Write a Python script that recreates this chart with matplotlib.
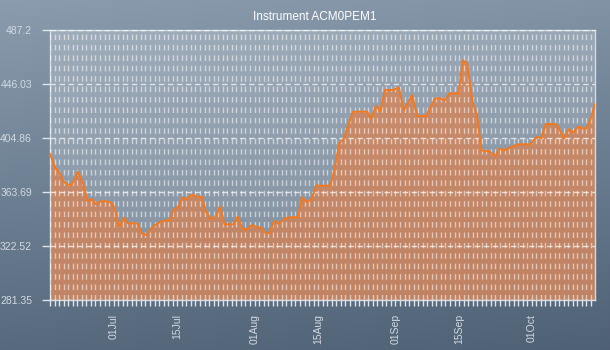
import numpy as np
import pandas as pd
import matplotlib
matplotlib.use('Agg')
import matplotlib.pyplot as plt
import matplotlib.dates as mdates

plt.rcParams['font.family'] = ['Liberation Sans', 'DejaVu Sans']

title = 'Instrument ACM0PEM1'
start = pd.Timestamp('2013-06-17')

# offset in days from start, and the instrument value there
days = [0.0, 0.66, 1.17, 1.98, 2.86, 3.59, 4.69, 5.29, 6.17, 6.89,
        7.49, 8.22, 9.25, 10.07, 10.95, 12.18, 13.5, 14.25, 15.13, 16.3,
        17.18, 19.23, 20.11, 21.21, 21.96, 23.13, 24.23, 25.33, 26.43, 27.16,
        28.26, 29.14, 30.11, 31.21, 32.31, 33.41, 34.3, 35.4, 36.34, 37.44,
        38.39, 40.37, 41.34, 42.36, 43.33, 44.43, 45.53, 46.48, 47.58, 48.3,
        49.34, 50.29, 51.76, 52.71, 54.56, 55.44, 56.54, 57.64, 58.59, 61.67,
        62.56, 63.66, 64.6, 65.48, 66.67, 69.76, 70.64, 71.74, 72.69, 73.68,
        75.62, 76.72, 77.82, 78.79, 79.67, 80.77, 82.75, 83.7, 84.8, 85.9,
        86.78, 87.89, 89.87, 90.81, 91.78, 92.51, 93.06, 93.94, 94.93, 96.54,
        98.02, 98.9, 99.85, 101.32, 103.15, 105.73, 107.05, 108.08, 109.03, 111.23,
        111.96, 113.06, 114.16, 115.13, 116.15, 117.11, 118.06, 119.0, 119.9]
values = [392.7, 386.8, 381.8, 379.2, 372.3, 369.8, 369.0, 372.8, 379.2, 373.4,
          367.7, 356.8, 358.4, 354.3, 356.3, 356.8, 355.5, 351.3, 337.2, 344.1,
          339.8, 339.8, 332.2, 330.9, 334.7, 338.5, 341.0, 341.8, 342.3, 350.0,
          352.5, 359.6, 358.1, 361.9, 360.1, 360.1, 348.7, 343.1, 344.4, 352.5,
          339.1, 339.1, 344.9, 335.3, 335.3, 338.5, 336.8, 336.5, 331.7, 332.7,
          341.8, 339.3, 343.6, 344.4, 344.4, 359.6, 355.8, 358.9, 368.5, 368.5,
          380.5, 400.8, 404.1, 413.5, 424.9, 424.9, 419.9, 429.5, 425.4, 441.5,
          441.5, 443.5, 426.2, 431.8, 437.6, 421.6, 421.6, 428.7, 435.1, 435.1,
          433.3, 438.9, 438.9, 463.9, 462.0, 443.0, 430.8, 422.4, 395.3, 395.0,
          391.1, 397.0, 395.2, 397.8, 400.1, 400.1, 405.9, 404.6, 415.5, 415.5,
          412.3, 404.6, 411.7, 408.9, 413.5, 412.3, 412.3, 419.9, 430.6]

y_min, y_max = 281.35, 487.2
x_span = 119.9

dates = start + pd.to_timedelta(days, unit='D')

fig = plt.figure(figsize=(6.1, 3.5), dpi=100)

# blue-grey gradient behind everything
bg = fig.add_axes([0, 0, 1, 1], zorder=-10)
yy, xx = np.mgrid[0:1:200j, 0:1:200j]
shade = 0.85 * yy + 0.15 * xx
top = np.array([0.54, 0.61, 0.68])
bot = np.array([0.31, 0.38, 0.46])
img = top[None, None, :] * (1 - shade[..., None]) + bot[None, None, :] * shade[..., None]
bg.imshow(img, aspect='auto', extent=[0, 1, 0, 1], origin='upper')
bg.axis('off')

ax = fig.add_axes([50 / 610, 50 / 350, 545 / 610, 270 / 350])
ax.set_facecolor((1, 1, 1, 0.22))

ax.fill_between(dates, values, y_min, color='#e0804a', alpha=0.68, lw=0, zorder=2)
ax.plot(dates, values, color='#f5781c', lw=1.4, zorder=3)

ax.set_xlim(start, start + pd.Timedelta(days=x_span))
ax.set_ylim(y_min, y_max)

yticks = np.linspace(y_min, y_max, 6)
ax.set_yticks(yticks)
ax.set_yticklabels(['%g' % round(v, 2) for v in yticks])

ax.xaxis.set_major_locator(mdates.DayLocator(bymonthday=[1, 15]))
ax.xaxis.set_major_formatter(mdates.DateFormatter('%d%b'))
ax.xaxis.set_minor_locator(mdates.DayLocator())

lab_col = '#d2dae2'
ax.tick_params(axis='x', which='both', length=4, width=1, color='#dfe5ea',
               labelcolor=lab_col, labelsize=7.5, labelrotation=90, pad=6)
ax.tick_params(axis='y', length=6, width=1, color='#dfe5ea',
               labelcolor=lab_col, labelsize=7.5, pad=7)

ax.grid(axis='x', which='both', color='white', alpha=0.55, lw=1,
        linestyle=(0, (4, 3.5)), zorder=4)
ax.grid(axis='y', which='major', color='white', alpha=0.7, lw=1,
        linestyle=(0, (4, 2.5)), zorder=4)
ax.set_axisbelow(False)

for side in ['left', 'bottom', 'right', 'top']:
    ax.spines[side].set_color('#d4dce3')
    ax.spines[side].set_linewidth(1)

fig.text(315 / 610, 1 - 17 / 350, title, color='white', fontsize=8.5,
         ha='center', va='center')

fig.savefig('out.png', dpi=100)
